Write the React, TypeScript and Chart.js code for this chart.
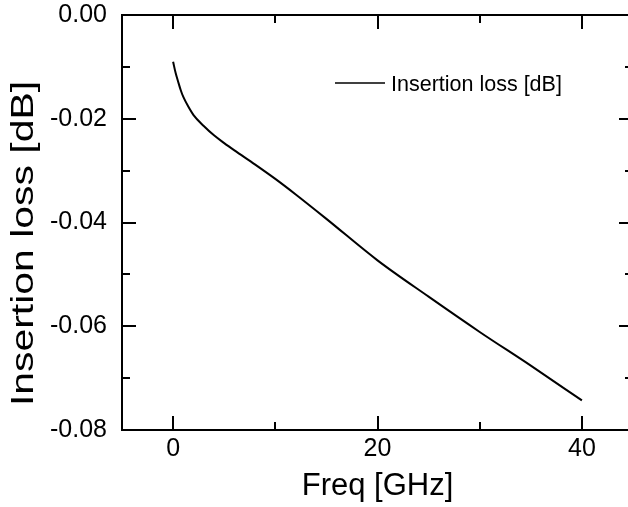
import React, { useEffect, useRef } from 'react';
import { Chart, registerables } from 'chart.js';

Chart.register(...registerables);

// ---- data ----
const freqGHz = [0, 0.25, 0.5, 0.75, 1, 1.5, 2, 3, 4, 5, 6, 8, 10, 12, 15, 20, 25, 30, 35, 40];
const insertionLossDb = [
  -0.009, -0.0112, -0.0129, -0.0145, -0.0158, -0.0177, -0.0193, -0.0214, -0.0232, -0.0247,
  -0.0261, -0.0288, -0.0316, -0.0346, -0.0393, -0.0473, -0.0543, -0.0611, -0.0676, -0.0743,
];
const seriesLabel = 'Insertion loss [dB]';
const xTitle = 'Freq [GHz]';
const yTitle = 'Insertion loss [dB]';
const xMajorTicks = [0, 20, 40];
const xMinorTicks = [10, 30];
const yMajorTicks = [0, -0.02, -0.04, -0.06, -0.08];
const yMinorTicks = [-0.01, -0.03, -0.05, -0.07];

const FONT = '"Liberation Sans", Arial, Helvetica, sans-serif';

const framePlugin = {
  id: 'frameTicksLegend',
  afterLayout(chart: any) {
    const ys = chart.scales.y;
    if (ys && !ys.__wrapped) {
      const orig = ys.drawTitle.bind(ys);
      ys.drawTitle = (...args: any[]) => {
        const ctx = chart.ctx;
        const cy0 = (ys.top + ys.bottom) / 2;
        ctx.save();
        ctx.translate(0, cy0 + 21);
        ctx.scale(1, 1.32);
        ctx.translate(0, -cy0);
        orig(...args);
        ctx.restore();
      };
      ys.__wrapped = true;
    }
  },
  afterDraw(chart: any) {
    const { ctx, chartArea } = chart;
    const { left, right, top, bottom } = chartArea;
    const xs = chart.scales.x;
    const ys = chart.scales.y;
    ctx.save();
    ctx.strokeStyle = '#000';
    ctx.lineWidth = 2;
    ctx.strokeRect(left, top, right - left, bottom - top);
    const major = 14;
    const minor = 8;
    ctx.beginPath();
    const xt = (v: number, len: number) => {
      const px = Math.round(xs.getPixelForValue(v));
      ctx.moveTo(px, bottom);
      ctx.lineTo(px, bottom - len);
      ctx.moveTo(px, top);
      ctx.lineTo(px, top + len);
    };
    const yt = (v: number, len: number) => {
      const py = Math.round(ys.getPixelForValue(v));
      ctx.moveTo(left, py);
      ctx.lineTo(left + len, py);
      ctx.moveTo(right, py);
      ctx.lineTo(right - len, py);
    };
    xMajorTicks.forEach((v) => xt(v, major));
    xMinorTicks.forEach((v) => xt(v, minor));
    yMajorTicks.forEach((v) => yt(v, major));
    yMinorTicks.forEach((v) => yt(v, minor));
    ctx.stroke();

    // legend inside the plot area
    const ds = chart.data.datasets[0];
    const lx = left + 213;
    const ly = top + 68;
    ctx.beginPath();
    ctx.lineWidth = 1.5;
    ctx.strokeStyle = ds.borderColor;
    ctx.moveTo(lx, ly);
    ctx.lineTo(lx + 50, ly);
    ctx.stroke();
    ctx.fillStyle = '#000';
    ctx.font = `21.5px ${FONT}`;
    ctx.textBaseline = 'middle';
    ctx.textAlign = 'left';
    ctx.fillText(ds.label, lx + 56, ly + 2);
    ctx.restore();
  },
};

export default function App() {
  const ref = useRef<HTMLCanvasElement | null>(null);

  useEffect(() => {
    if (!ref.current) return;
    const points = freqGHz.map((f, i) => ({ x: f, y: insertionLossDb[i] }));
    const chart = new Chart(ref.current, {
      type: 'scatter',
      data: {
        datasets: [
          {
            label: seriesLabel,
            data: points,
            showLine: true,
            borderColor: '#000',
            backgroundColor: '#000',
            borderWidth: 2,
            pointRadius: 0,
            cubicInterpolationMode: 'monotone',
          } as any,
        ],
      },
      options: {
        responsive: false,
        animation: false,
        devicePixelRatio: 1,
        layout: { padding: { left: 0, top: 15, right: 7, bottom: 0 } },
        plugins: {
          legend: { display: false },
          tooltip: { enabled: false },
        },
        scales: {
          x: {
            type: 'linear',
            position: 'bottom',
            min: -5,
            max: 45,
            grid: { display: false, drawTicks: false },
            border: { display: false },
            afterBuildTicks: (s: any) => {
              s.ticks = [...xMajorTicks, ...xMinorTicks].sort((a, b) => a - b).map((v) => ({ value: v }));
            },
            ticks: {
              padding: 4,
              autoSkip: false,
              color: '#000',
              font: { family: FONT, size: 25 },
              maxRotation: 0,
              callback: (v: any) => (xMajorTicks.includes(Number(v)) ? String(v) : ''),
            },
            title: {
              display: true,
              text: xTitle,
              color: '#000',
              font: { family: FONT, size: 31 },
              padding: { top: 0, bottom: 2 },
            },
            afterFit: (s: any) => {
              s.height = 77;
              s.paddingLeft = 0;
              s.paddingRight = 0;
            },
          },
          y: {
            type: 'linear',
            position: 'left',
            min: -0.08,
            max: 0,
            grid: { display: false, drawTicks: false },
            border: { display: false },
            afterBuildTicks: (s: any) => {
              s.ticks = [...yMajorTicks, ...yMinorTicks].sort((a, b) => a - b).map((v) => ({ value: v }));
            },
            ticks: {
              padding: 15,
              autoSkip: false,
              color: '#000',
              font: { family: FONT, size: 25 },
              callback: (v: any) => {
                const n = Number(v);
                return yMajorTicks.includes(n) ? (n === 0 ? '0.00' : n.toFixed(2)) : '';
              },
            },
            title: {
              display: true,
              text: yTitle,
              color: '#000',
              font: { family: FONT, size: 31 },
              padding: { top: 6, bottom: 0 },
            },
            afterFit: (s: any) => {
              s.width = 122;
              s.paddingTop = 0;
              s.paddingBottom = 0;
            },
          },
        },
      },
      plugins: [framePlugin],
    });
    return () => chart.destroy();
  }, []);

  return (
    <div
      style={{
        position: 'fixed',
        left: 0,
        top: 0,
        width: 628,
        height: 507,
        overflow: 'hidden',
        background: '#fff',
      }}
    >
      <canvas ref={ref} width={640} height={507} style={{ display: 'block', width: 640, height: 507 }} />
    </div>
  );
}
